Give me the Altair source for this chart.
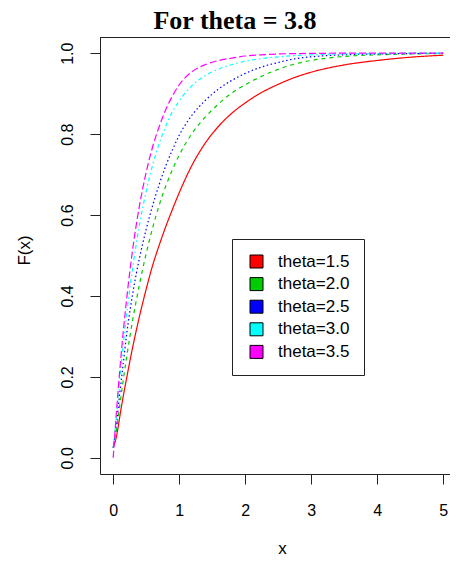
import altair as alt
import pandas as pd

# x grid and F(x) values
x_vals = [0, 0.05, 0.1, 0.15, 0.2, 0.3, 0.4, 0.5, 0.6, 0.7, 0.8, 0.9, 1.0,
          1.2, 1.4, 1.6, 1.8, 2.0, 2.25, 2.5, 2.75, 3.0, 3.5, 4.0, 4.5, 5.0]
F_15 = [0.025, 0.053, 0.102, 0.150, 0.194, 0.277, 0.351, 0.417, 0.477, 0.527, 0.573, 0.615, 0.655,
        0.725, 0.779, 0.820, 0.852, 0.877, 0.903, 0.923, 0.940, 0.953, 0.971, 0.982, 0.990, 0.995]
F_20 = [0.025, 0.070, 0.130, 0.190, 0.245, 0.345, 0.430, 0.505, 0.570, 0.626, 0.673, 0.713, 0.748,
        0.803, 0.843, 0.875, 0.902, 0.922, 0.943, 0.960, 0.973, 0.982, 0.992, 0.996, 0.998, 0.999]
F_25 = [0.025, 0.085, 0.160, 0.230, 0.300, 0.410, 0.495, 0.565, 0.625, 0.677, 0.723, 0.762, 0.797,
        0.848, 0.884, 0.912, 0.933, 0.950, 0.966, 0.977, 0.986, 0.991, 0.996, 0.998, 0.999, 1.0]
F_30 = [0.025, 0.102, 0.194, 0.276, 0.350, 0.475, 0.577, 0.659, 0.725, 0.778, 0.821, 0.856, 0.882,
        0.921, 0.945, 0.961, 0.972, 0.980, 0.987, 0.991, 0.994, 0.996, 0.998, 0.999, 1.0, 1.0]
F_35 = [0.0, 0.115, 0.217, 0.308, 0.387, 0.521, 0.625, 0.706, 0.770, 0.820, 0.862, 0.895, 0.922,
        0.955, 0.972, 0.982, 0.988, 0.993, 0.996, 0.998, 0.999, 0.9994, 1.0, 1.0, 1.0, 1.0]

series_labels = ["theta=1.5", "theta=2.0", "theta=2.5", "theta=3.0", "theta=3.5"]
colors = ["#FF0000", "#00CD00", "#0000FF", "#00FFFF", "#FF00FF"]
dashes = [[1, 0], [4, 4], [1.5, 2.5], [1.5, 3, 4, 3], [7, 3]]
x_ticks = [0, 1, 2, 3, 4, 5]
y_ticks = [0.0, 0.2, 0.4, 0.6, 0.8, 1.0]

rows = []
for lab, ys in zip(series_labels, [F_15, F_20, F_25, F_30, F_35]):
    for xv, yv in zip(x_vals, ys):
        rows.append({"x": xv, "F": yv, "series": lab, "key": lab})
df = pd.DataFrame(rows)

W, H = 350, 437
xscale = alt.Scale(domain=[-0.2, 5.103], nice=False, zero=False)
yscale = alt.Scale(domain=[-0.04, 1.04], nice=False, zero=False)

x_axis = alt.Axis(values=x_ticks, format="d", tickSize=10, labelPadding=18,
                  labelFontSize=16, labelFlush=False, labelOverlap=False,
                  title="x", titleFontSize=17, titleFontWeight="normal",
                  titleX=182, titleY=79, titleBaseline="alphabetic", titleAlign="center")
y_axis = alt.Axis(values=y_ticks, format=".1f", tickSize=10, labelPadding=15,
                  labelFontSize=16, labelAngle=270, labelAlign="center",
                  labelBaseline="bottom", labelFlush=False, labelOverlap=False,
                  title="F(x)", titleFontSize=17, titleFontWeight="normal",
                  titleAngle=270, titleX=-71, titleY=213, titleAlign="center",
                  titleBaseline="alphabetic")

base = alt.Chart(df)
# line scales take their domain from the data (sorted names), the key scale an explicit one,
# so that Vega-Lite does not merge the hidden line legend with the visible key legend
lines = base.mark_line(strokeWidth=1.2, interpolate="monotone", clip=True).encode(
    x=alt.X("x:Q", scale=xscale, axis=x_axis),
    y=alt.Y("F:Q", scale=yscale, axis=y_axis),
    stroke=alt.Stroke("series:N", scale=alt.Scale(range=colors), legend=None),
    strokeDash=alt.StrokeDash("series:N", scale=alt.Scale(range=dashes), legend=None),
    order=alt.Order("series:N"),
)
keys = base.mark_point(shape="square", filled=True, size=0).encode(
    x="x:Q",
    y="F:Q",
    color=alt.Color("key:N", scale=alt.Scale(domain=series_labels, range=colors),
                    legend=alt.Legend(title=None, orient="none", legendX=132, legendY=202,
                                      symbolType="square", symbolSize=169,
                                      symbolStrokeColor="black", symbolStrokeWidth=1,
                                      symbolOpacity=1, symbolOffset=2, labelFontSize=17,
                                      labelFont="Liberation Sans", labelColor="black",
                                      labelOffset=13, rowPadding=4.6, padding=14,
                                      fillColor="white", strokeColor="#222")),
)
border = alt.Chart(pd.DataFrame({"a": [0]})).mark_rule(color="#222", strokeWidth=1).encode(
    x=alt.value(0), x2=alt.value(W), y=alt.value(0.5)
)

chart = alt.layer(lines, keys, border).properties(
    width=W, height=H,
    title=alt.TitleParams("For theta = 3.8", font="Liberation Serif", fontSize=26,
                          fontWeight="bold", color="black", anchor="middle", frame="group",
                          dx=-40, offset=3),
    autosize=alt.AutoSizeParams(type="none"),
    padding={"left": 92, "top": 29, "right": 0, "bottom": 82},
).configure_view(stroke=None).configure_axis(
    grid=False, domainColor="#222", tickColor="#222", labelColor="black",
    titleColor="black", labelFont="Liberation Sans", titleFont="Liberation Sans",
)

chart.save("out.html", embed_options={"renderer": "svg", "actions": False})
